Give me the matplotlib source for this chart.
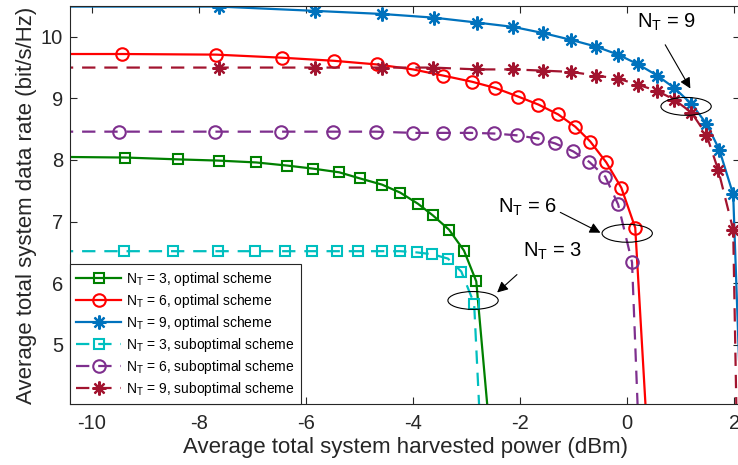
import matplotlib
matplotlib.use('Agg')
import matplotlib.pyplot as plt
from matplotlib.patches import Ellipse

plt.rcParams['font.family'] = ['Liberation Sans', 'DejaVu Sans']
plt.rcParams['mathtext.fontset'] = 'custom'
plt.rcParams['mathtext.rm'] = 'Liberation Sans'
plt.rcParams['mathtext.it'] = 'Liberation Sans:italic'
plt.rcParams['axes.unicode_minus'] = False

# harvested power (dBm) / data rate (bit/s/Hz)
x_opt3 = [-10.6, -9.38, -8.39, -7.63, -6.93, -6.36, -5.87, -5.38, -4.99, -4.58, -4.24, -3.91, -3.63, -3.33, -3.05, -2.82, -2.51]
y_opt3 = [8.05, 8.04, 8.01, 7.99, 7.96, 7.91, 7.86, 7.80, 7.70, 7.60, 7.47, 7.29, 7.10, 6.87, 6.53, 6.03, 3.0]

x_opt6 = [-10.6, -9.44, -7.68, -6.45, -5.48, -4.67, -4.00, -3.44, -2.90, -2.47, -2.04, -1.66, -1.29, -0.97, -0.69, -0.39, -0.11, 0.15, 0.41]
y_opt6 = [9.72, 9.72, 9.71, 9.66, 9.61, 9.55, 9.47, 9.37, 9.27, 9.17, 9.03, 8.90, 8.74, 8.54, 8.30, 7.96, 7.55, 6.90, 3.0]

x_opt9 = [-10.6, -7.63, -5.83, -4.58, -3.61, -2.80, -2.13, -1.57, -1.05, -0.58, -0.17, 0.21, 0.56, 0.88, 1.20, 1.48, 1.72, 1.98, 2.16]
y_opt9 = [10.49, 10.49, 10.42, 10.37, 10.31, 10.23, 10.16, 10.06, 9.95, 9.84, 9.71, 9.55, 9.37, 9.17, 8.91, 8.59, 8.17, 7.44, 3.0]

x_sub3 = [-10.6, -9.40, -8.49, -7.64, -6.95, -6.39, -5.89, -5.42, -5.03, -4.58, -4.24, -3.93, -3.64, -3.35, -3.10, -2.86, -2.71]
y_sub3 = [6.52, 6.52, 6.52, 6.52, 6.52, 6.52, 6.52, 6.52, 6.52, 6.52, 6.52, 6.50, 6.47, 6.40, 6.19, 5.67, 3.0]

x_sub6 = [-10.6, -9.50, -7.70, -6.47, -5.50, -4.69, -4.00, -3.44, -2.93, -2.49, -2.06, -1.68, -1.35, -1.01, -0.71, -0.41, -0.17, 0.09, 0.24]
y_sub6 = [8.46, 8.46, 8.46, 8.46, 8.46, 8.46, 8.44, 8.44, 8.44, 8.43, 8.40, 8.35, 8.27, 8.14, 7.97, 7.73, 7.28, 6.34, 3.0]

x_sub9 = [-10.6, -7.63, -5.83, -4.58, -3.63, -2.80, -2.13, -1.57, -1.05, -0.58, -0.17, 0.21, 0.56, 0.88, 1.20, 1.48, 1.70, 1.98, 2.06]
y_sub9 = [9.50, 9.50, 9.50, 9.50, 9.50, 9.47, 9.47, 9.45, 9.43, 9.37, 9.32, 9.22, 9.12, 8.98, 8.77, 8.41, 7.84, 6.87, 3.0]

labels = ['N$_\\mathrm{T}$ = 3, optimal scheme', 'N$_\\mathrm{T}$ = 6, optimal scheme',
          'N$_\\mathrm{T}$ = 9, optimal scheme', 'N$_\\mathrm{T}$ = 3, suboptimal scheme',
          'N$_\\mathrm{T}$ = 6, suboptimal scheme', 'N$_\\mathrm{T}$ = 9, suboptimal scheme']

fig = plt.figure(figsize=(7.38, 4.65), dpi=100)
ax = fig.add_axes([0.0949, 0.1312, 0.908, 0.856])

star = (8, 2, 0)
lw = 1.6
ax.plot(x_opt3, y_opt3, '-', color='#008000', lw=lw, marker='s', ms=7, mfc='none', mew=1.5, label=labels[0])
ax.plot(x_opt6, y_opt6, '-', color='#FF0000', lw=lw, marker='o', ms=9, mfc='none', mew=1.5, label=labels[1])
ax.plot(x_opt9, y_opt9, '-', color='#0072BD', lw=lw, marker=star, ms=10, mew=1.6, label=labels[2])
ax.plot(x_sub3, y_sub3, '--', color='#00BFBF', lw=lw, marker='s', ms=7, mfc='none', mew=1.5, dashes=(6, 4), label=labels[3])
ax.plot(x_sub6, y_sub6, '--', color='#7E2F8E', lw=lw, marker='o', ms=9, mfc='none', mew=1.5, dashes=(6, 4), label=labels[4])
ax.plot(x_sub9, y_sub9, '--', color='#A2142F', lw=lw, marker=star, ms=10, mew=1.6, dashes=(6, 4), label=labels[5])

# annotations
for cx, cy in [(1.10, 8.87), (0.00, 6.81), (-2.88, 5.72)]:
    ax.add_patch(Ellipse((cx, cy), 0.94, 0.29, fill=False, ec='k', lw=0.8, zorder=5))
ann = [('N$_\\mathrm{T}$ = 9', (0.19, 10.23), (0.71, 9.87), (1.18, 9.16)),
       ('N$_\\mathrm{T}$ = 6', (-2.41, 7.23), (-1.25, 7.15), (-0.50, 6.82)),
       ('N$_\\mathrm{T}$ = 3', (-1.94, 6.52), (-2.06, 6.14), (-2.43, 5.85))]
for txt, pos, tail, tip in ann:
    ax.text(pos[0], pos[1], txt, fontsize=14.5, ha='left', va='center', zorder=6)
    ax.annotate('', xy=tip, xytext=tail,
                arrowprops=dict(arrowstyle='-|>', color='k', lw=0.8, mutation_scale=16, shrinkA=0, shrinkB=0))

ax.set_xlim(-10.41, 2.11)
ax.set_ylim(4.04, 10.5)
ax.set_xticks([-10, -8, -6, -4, -2, 0, 2])
ax.set_yticks([5, 6, 7, 8, 9, 10])
ax.tick_params(direction='in', top=True, right=True, length=5, width=0.8, labelsize=14.5,
               colors='#262626', pad=5)
ax.tick_params(axis='x', pad=7)
for s in ax.spines.values():
    s.set_color('#262626')
    s.set_linewidth(0.8)

ax.set_xlabel('Average total system harvested power (dBm)', fontsize=16, color='#262626', labelpad=3)
ax.set_ylabel('Average total system data rate (bit/s/Hz)', fontsize=16, color='#262626', labelpad=3)

leg = ax.legend(loc='lower left', fontsize=10, frameon=True, fancybox=False, framealpha=1,
                edgecolor='#262626', borderaxespad=0, handlelength=3.2, labelspacing=0.28,
                handletextpad=0.35, borderpad=0.45)
leg.get_frame().set_linewidth(0.8)

fig.savefig('out.png', dpi=100)
